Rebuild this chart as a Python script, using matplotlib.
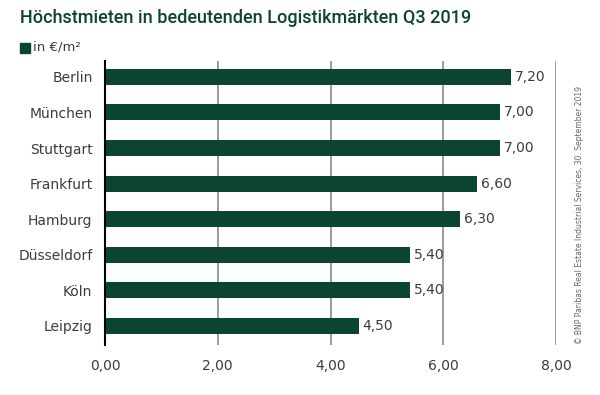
import matplotlib.pyplot as plt

# Data
cities = ['Berlin', 'München', 'Stuttgart', 'Frankfurt', 'Hamburg', 'Düsseldorf', 'Köln', 'Leipzig']
rents = [7.20, 7.00, 7.00, 6.60, 6.30, 5.40, 5.40, 4.50]
xticks = [0, 2, 4, 6, 8]

green = '#0b4433'
gray = '#8a8a8a'
text_gray = '#3c3c3c'

fig = plt.figure(figsize=(6, 3.95), dpi=100)
ax = fig.add_axes([0.175, 0.127, 0.752, 0.719])

pos = range(len(cities))
bars = ax.barh(pos, rents, height=0.45, color=green, zorder=3)

ax.set_ylim(len(cities) - 0.47, -0.45)
ax.set_xlim(0, 8)

# value labels
for rect, v in zip(bars, rents):
    ax.text(rect.get_width() + 0.07, rect.get_y() + rect.get_height() / 2,
            f'{v:.2f}'.replace('.', ','), va='center', ha='left',
            fontsize=10, color=text_gray)

# gridlines
for x in xticks[1:]:
    ax.axvline(x, color=gray, lw=1.2, zorder=1)

ax.set_xticks(xticks)
ax.set_xticklabels([f'{x:.2f}'.replace('.', ',') for x in xticks], fontsize=10, color=text_gray)
ax.tick_params(axis='x', length=0, pad=10)
ax.set_yticks(list(pos))
ax.set_yticklabels(cities, fontsize=10, color=text_gray)
ax.tick_params(axis='y', length=0, pad=9)

for side in ['top', 'right', 'bottom']:
    ax.spines[side].set_visible(False)
ax.spines['left'].set_color('black')
ax.spines['left'].set_linewidth(1.5)
ax.spines['left'].set_zorder(4)

# title and legend
fig.text(20 / 600, 1 - 18 / 395, 'Höchstmieten in bedeutenden Logistikmärkten Q3 2019',
         fontsize=13, color=green, va='center', ha='left',
         fontfamily='Roboto', fontweight='medium')
fig.patches.append(plt.Rectangle((20 / 600, 1 - 53 / 395), 10 / 600, 10 / 395,
                                 transform=fig.transFigure, color=green, figure=fig))
fig.text(33 / 600, 1 - 47 / 395, 'in €/m²', fontsize=9.5, color=text_gray, va='center', ha='left')

# source
fig.text(580 / 600, 1 - 215 / 395,
         '© BNP Paribas Real Estate Industrial Services, 30. September 2019',
         rotation=90, fontsize=5.5, color='#666666', va='center', ha='center')

fig.savefig('out.png', dpi=100)
